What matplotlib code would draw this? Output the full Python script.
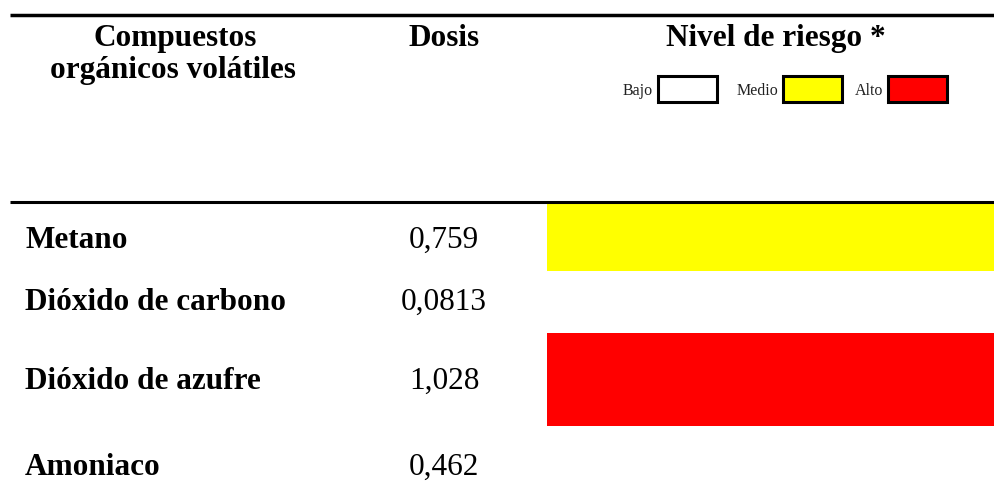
import matplotlib.pyplot as plt
from matplotlib.patches import Rectangle

#########################
# données du tableau
#########################
compuestos = ["Metano", "Dióxido de carbono", "Dióxido de azufre", "Amoniaco"]
dosis = [0.759, 0.0813, 1.028, 0.462]
riesgo = ["Medio", "Bajo", "Alto", "Bajo"]

niveles = ["Bajo", "Medio", "Alto"]
colores = {"Bajo": "#ffffff", "Medio": "#ffff00", "Alto": "#ff0000"}

#########################
# mise en page (pixels)
#########################
W, H = 994, 497
bordes_filas = [203, 271, 333, 426, 519]
lignes_base = [248, 310, 389, 475]

plt.rcParams['font.family'] = ['Liberation Serif', 'DejaVu Serif']

fig = plt.figure(figsize=(W / 100, H / 100), dpi=100)
ax = fig.add_axes([0, 0, 1, 1])
ax.axis('off')

fs = 22.5

# lignes horizontales
ax.plot([10, W], [15, 15], color='black', lw=2.5, solid_capstyle='butt')
ax.plot([10, W], [201.5, 201.5], color='black', lw=2.2, solid_capstyle='butt')

# en-têtes
ax.text(175, 46, "Compuestos", ha='center', va='baseline', fontsize=fs, fontweight='bold')
ax.text(173, 78, "orgánicos volátiles", ha='center', va='baseline', fontsize=fs, fontweight='bold')
ax.text(444, 46, "Dosis", ha='center', va='baseline', fontsize=fs, fontweight='bold')
ax.text(776, 46, "Nivel de riesgo *", ha='center', va='baseline', fontsize=fs, fontweight='bold')

# légende
legende_x = [658, 783, 888]
for niv, x0 in zip(niveles, legende_x):
    ax.add_patch(Rectangle((x0, 76), 59, 26, facecolor=colores[niv],
                           edgecolor='black', lw=2.2))
    ax.text(x0 - 5, 95, niv, ha='right', va='baseline', fontsize=11.5, color='#222222')

# barres de niveau de risque
centres = [(bordes_filas[i] + bordes_filas[i + 1]) / 2 for i in range(len(compuestos))]
hauteurs = [bordes_filas[i + 1] - bordes_filas[i] for i in range(len(compuestos))]
ax.barh(centres, [W - 547] * len(compuestos), height=hauteurs, left=547,
        color=[colores[r] for r in riesgo], edgecolor='none')
ax.set_xlim(0, W)
ax.set_ylim(H, 0)

# lignes du tableau
for nom, d, yb in zip(compuestos, dosis, lignes_base):
    ax.text(25, yb, nom, ha='left', va='baseline', fontsize=fs, fontweight='bold')
    ax.text(444, yb, "{}".format(d).replace('.', ','), ha='center', va='baseline', fontsize=fs)

fig.savefig("out.png", dpi=100)
